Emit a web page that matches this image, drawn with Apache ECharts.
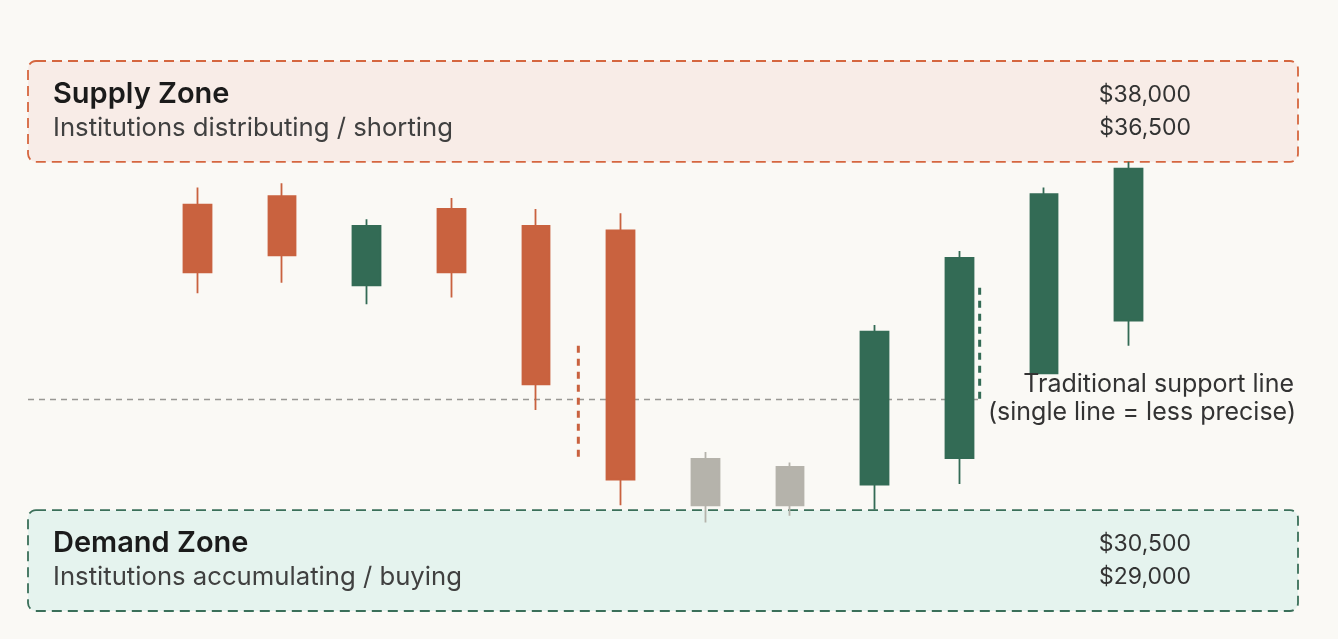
<!DOCTYPE html>
<html>
<head>
<meta charset="utf-8">
<script src="https://cdn.jsdelivr.net/npm/echarts@6/dist/echarts.min.js"></script>
<style>
html,body{margin:0;padding:0;background:#FAF9F5;}
#c{width:1338px;height:639px;}
</style>
</head>
<body>
<div id="c"></div>
<script>
// ---- data ----
const categories = ['1','2','3','4','5','6','7','8','9','10','11','12'];
const opens  = [35650, 35790, 34330, 35580, 35300, 35230, 30730, 30730, 31070, 31500, 32890, 33750];
const closes = [34540, 34820, 35300, 34540, 32710, 31150, 31490, 31360, 33570, 34780, 35820, 36240];
const lows   = [34200, 34370, 34020, 34130, 32290, 30730, 30450, 30560, 30660, 31080, 32890, 33340];
const highs  = [35930, 36000, 35410, 35760, 35580, 35510, 31600, 31430, 33680, 34890, 35930, 36350];
const kinds  = ['down','down','up','down','down','down','flat','flat','up','up','up','up'];

const supplyZone = [36350, 38000];
const demandZone = [29000, 30650];
const supplyLabels = ['Supply Zone', 'Institutions distributing / shorting', '$38,000', '$36,500'];
const demandLabels = ['Demand Zone', 'Institutions accumulating / buying', '$30,500', '$29,000'];

const supportLevel = 32460;
const supportSpan = [-2, 9.22];
const supportLabels = ['Traditional support line', '(single line = less precise)'];
const orangeMarker = [4.5, 33340, 31500];
const greenMarker = [9.24, 34290, 32450];

const yMin = 29000, yMax = 38000;

// ---- styling ----
const COL = { down: '#C9623F', up: '#336B55', flat: '#B5B3AB' };
const FONT = 'Inter, "Noto Sans", sans-serif';

const candleData = categories.map((c, i) => ({
  value: [opens[i], closes[i], lows[i], highs[i]],
  itemStyle: {
    color: COL[kinds[i]], color0: COL[kinds[i]],
    borderColor: COL[kinds[i]], borderColor0: COL[kinds[i]]
  }
}));

const zones = [
  [-2, 13, supplyZone[0], supplyZone[1], 0],
  [-2, 13, demandZone[0], demandZone[1], 1]
];
const zoneStyle = [
  { fill: '#F8ECE7', stroke: '#D5663F', labels: supplyLabels },
  { fill: '#E5F3EE', stroke: '#3A6F59', labels: demandLabels }
];

const chart = echarts.init(document.getElementById('c'), null, { renderer: 'canvas' });
chart.setOption({
  backgroundColor: '#FAF9F5',
  animation: false,
  grid: [
    { left: 155, right: 167, top: 61, bottom: 28 },
    { left: 28, right: 40, top: 61, bottom: 28 }
  ],
  xAxis: [
    { type: 'category', gridIndex: 0, data: categories, boundaryGap: true, show: false },
    { type: 'value', gridIndex: 1, min: -2, max: 13, show: false }
  ],
  yAxis: [
    { type: 'value', gridIndex: 0, min: yMin, max: yMax, show: false, splitLine: { show: false } },
    { type: 'value', gridIndex: 1, min: yMin, max: yMax, show: false, splitLine: { show: false } }
  ],
  series: [
    {
      type: 'custom',
      xAxisIndex: 1, yAxisIndex: 1,
      z: 1,
      clip: false,
      silent: true,
      data: zones,
      renderItem: function (params, api) {
        const p0 = api.coord([api.value(0), api.value(3)]);
        const p1 = api.coord([api.value(1), api.value(2)]);
        const s = zoneStyle[api.value(4)];
        const x = p0[0], y = p0[1], w = p1[0] - p0[0], h = p1[1] - p0[1];
        return {
          type: 'group',
          children: [
            { type: 'rect', shape: { x: x, y: y, width: w, height: h, r: 8 },
              style: { fill: s.fill, stroke: s.stroke, lineWidth: 1.8, lineDash: [10, 6] } },
            { type: 'text', style: { x: x + 25, y: y + 33, text: s.labels[0], fill: '#1B1B1B',
              font: '600 29px ' + FONT, align: 'left', verticalAlign: 'middle' } },
            { type: 'text', style: { x: x + 25, y: y + 67, text: s.labels[1], fill: '#404040',
              font: '400 25.7px ' + FONT, align: 'left', verticalAlign: 'middle' } },
            { type: 'text', style: { x: 1191, y: y + 34, text: s.labels[2], fill: '#333333',
              font: '400 23px ' + FONT, align: 'right', verticalAlign: 'middle' } },
            { type: 'text', style: { x: 1191, y: y + 67, text: s.labels[3], fill: '#333333',
              font: '400 23px ' + FONT, align: 'right', verticalAlign: 'middle' } }
          ]
        };
      }
    },
    {
      type: 'line',
      xAxisIndex: 1, yAxisIndex: 1,
      z: 2,
      symbol: 'none',
      silent: true,
      data: [[supportSpan[0], supportLevel], [supportSpan[1], supportLevel]],
      lineStyle: { color: '#999894', width: 1.5, type: [6, 5] }
    },
    {
      type: 'line',
      xAxisIndex: 1, yAxisIndex: 1,
      z: 2,
      symbol: 'none',
      silent: true,
      data: [[orangeMarker[0], orangeMarker[1]], [orangeMarker[0], orangeMarker[2]]],
      lineStyle: { color: '#C9623F', width: 3, type: [7, 6] }
    },
    {
      type: 'line',
      xAxisIndex: 1, yAxisIndex: 1,
      z: 2,
      symbol: 'none',
      silent: true,
      data: [[greenMarker[0], greenMarker[1]], [greenMarker[0], greenMarker[2]]],
      lineStyle: { color: '#336B55', width: 3, type: [7, 6] }
    },
    {
      type: 'candlestick',
      xAxisIndex: 0, yAxisIndex: 0,
      z: 3,
      barWidth: 28,
      silent: true,
      itemStyle: { borderWidth: 1.8 },
      data: candleData
    }
  ],
  graphic: [
    { type: 'text', x: 1294, y: 384, z: 10,
      style: { text: supportLabels[0], fill: '#333333', font: '400 25px ' + FONT, align: 'right', verticalAlign: 'middle' } },
    { type: 'text', x: 1296, y: 412, z: 10,
      style: { text: supportLabels[1], fill: '#333333', font: '400 25px ' + FONT, align: 'right', verticalAlign: 'middle' } }
  ]
});
</script>
</body>
</html>
